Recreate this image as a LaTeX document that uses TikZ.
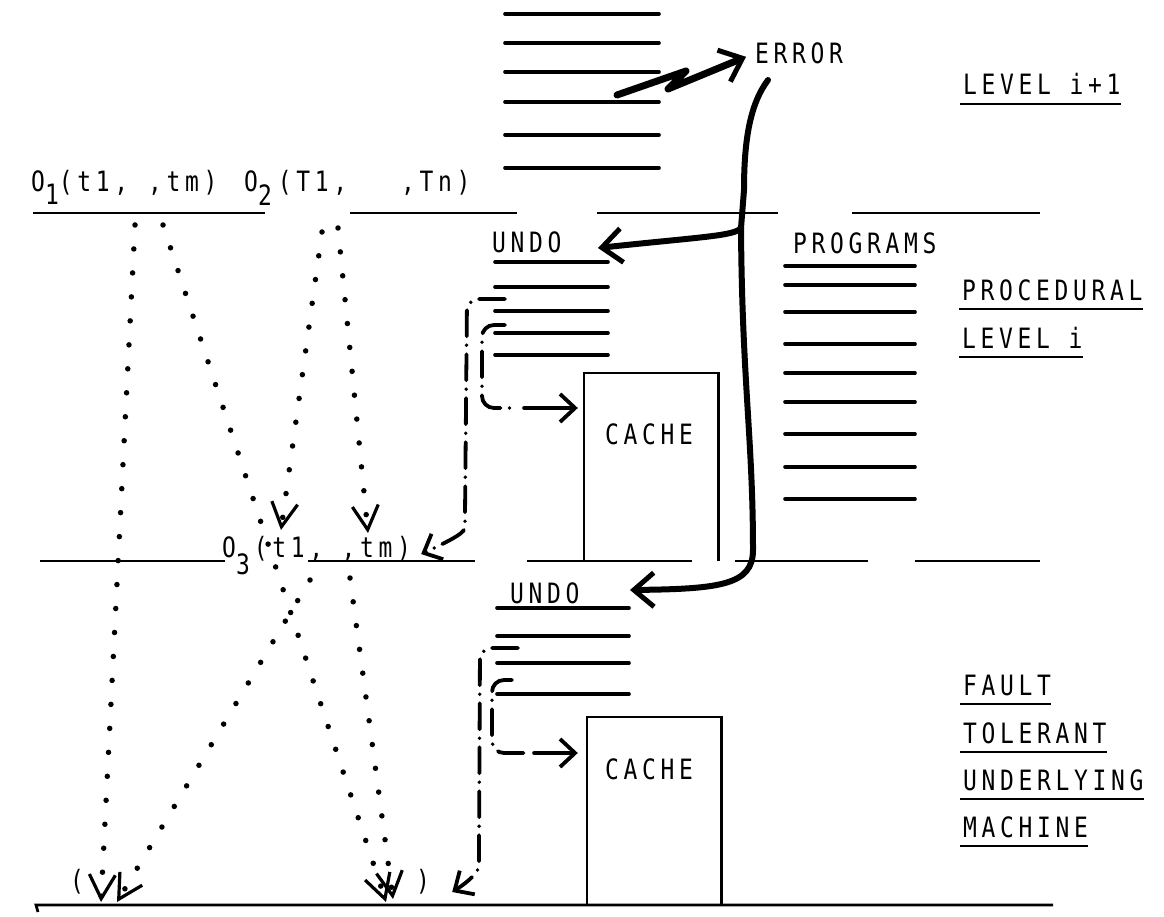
\documentclass[tikz,border=0pt]{standalone}
\usepackage{fontspec}
\usetikzlibrary{arrows.meta,calc}
\newfontfamily\typer[FakeStretch=0.82,LetterSpace=16.7]{DejaVu Sans Mono}
\newcommand{\typesize}{\fontsize{28}{32}\selectfont}
\newcommand{\sublow}[2]{\raisebox{-#1}{#2}}
\tikzset{
 every node/.append style={font=\typer\typesize,text=black,inner sep=0pt},
 word/.style={anchor=base west},
 rule/.style={line width=2.8pt},
 stack/.style={line width=3.6pt,line cap=round},
 wall/.style={line width=2.6pt},
 cachebox/.style={minimum width=134pt,minimum height=188pt},
 bold/.style={line width=6pt,line cap=round,line join=round},
 dots/.style={line width=5.5pt,line cap=round,dash pattern=on 0pt off 24pt},
 chain/.style={line width=3.8pt,line cap=round,rounded corners=12pt,dash pattern=on 26pt off 9pt on 0pt off 9pt},
 tipv/.style={-{Straight Barb[length=24pt,width=26pt,line width=3.2pt]}},
 tipc/.style={-{Straight Barb[length=15pt,width=28pt,line width=3.8pt]}},
 tipb/.style={-{Straight Barb[length=20pt,width=34pt,line width=5pt]}},
}

\begin{document}
\begin{tikzpicture}[x=1pt,y=-1pt]

\useasboundingbox (0,0) rectangle (1164,917);
\draw[rule] (33,213) -- (265,213) (350,213) -- (517,213) (597,213) -- (778,213) (852,213) -- (1040,213);
\draw[rule] (40,561) -- (225,561) (308,561) -- (475,561) (527,561) -- (692,561) (735,561) -- (868,561) (915,561) -- (1040,561);
\draw[rule] (38,912) -- (36,905) -- (1053,905);
\foreach \y in {14,43,72,102,135,168} \draw[stack] (505,\y) -- (659,\y);
\foreach \y in {262,287,311,333,355} \draw[stack] (495,\y) -- (608,\y);
\foreach \y in {266,285,312,344,373,402,434,467,499} \draw[stack] (785,\y) -- (915,\y);
\foreach \y in {608,636,663,694} \draw[stack] (497,\y) -- (629,\y);

\node[word] (err) at (755,64) {ERROR};
\node[word] (lvl1) at (963,95) {LEVEL i+1};
\node[word] (op1) at (31,192) {O\sublow{13pt}{1}(t1,\hspace{20pt},tm)};
\node[word] (op2) at (244,192) {O\sublow{14pt}{2}\kern6pt(T1,\hspace{54pt},Tn)};
\node[word] (undo1) at (492,253) {UNDO};
\node[word] (prog) at (793,254) {PROGRAMS};
\node[word] (proc) at (962,300) {PROCEDURAL};
\node[word] (lvl) at (962,348) {LEVEL i};
\node[word] (op3) at (222,557) {O\sublow{17pt}{3}\kern4pt(t1,\hspace{18.5pt},tm)};
\node[word] (undo2) at (510,603) {UNDO};
\node[word] (fault) at (963,695) {FAULT};
\node[word] (tol) at (963,743) {TOLERANT};
\node[word] (under) at (963,790) {UNDERLYING};
\node[word] (mach) at (963,837) {MACHINE};
\node[word] (lpar) at (70,890) {(};
\node[word] (rpar) at (416,890) {)};
\foreach \n in {lvl1,proc,lvl,fault,tol,under,mach}
  \draw[rule] ([xshift=-3pt,yshift=-9pt]\n.base west) -- ([yshift=-9pt]\n.base east);

\node[cachebox] (cache1) at (651,467) {};
\draw[wall] (cache1.south west) |- (cache1.north east) -- (cache1.south east);
\node[word] (cachetext1) at (605,444) {CACHE};
\node[cachebox] (cache2) at (654,811) {};
\draw[wall] (cache2.south west) |- (cache2.north east) -- (cache2.south east);
\node[word] (cachetext2) at (605,779) {CACHE};

\coordinate (a1) at (135,225);
\coordinate (b1) at (163,225);
\coordinate (c2) at (322,232);
\coordinate (d2) at (338,228);
\coordinate (e3) at (310,580);
\coordinate (f3) at (350,578);
\draw[dots,tipv] (a1) -- ([xshift=31pt,yshift=-12pt]lpar.base west);
\draw[dots,tipv] (b1) -- ([xshift=-30pt,yshift=-12pt]rpar.base west);
\draw[dots,tipv] (c2) -- ([xshift=59pt,yshift=27pt]op3.base west);
\draw[dots,tipv] (d2) -- ([xshift=146pt,yshift=24pt]op3.base west);
\draw[dots,tipv] (e3) -- ([xshift=47pt,yshift=-12pt]lpar.base west);
\draw[dots,tipv] (f3) -- ([xshift=-23pt,yshift=-9pt]rpar.base west);

\coordinate (s1) at (505,299);
\coordinate (s2) at (505,325);
\coordinate (s3) at (518,648);
\coordinate (s4) at (512,680);
\coordinate (k2) at (514,408);
\coordinate (k4) at (524,753);
\draw[chain,tipc] (s1) -- (467,299) -- (465,515) .. controls (465,532) and (456,538) .. ([xshift=10pt,yshift=3pt]op3.base east);
\draw[chain] (s2) -- (482,325) -- (482,408) -- (k2);
\draw[stack,tipc] ([xshift=10pt]k2) -- ([xshift=-6pt]cache1.west |- k2);
\draw[chain,tipc] (s3) -- (480,648) -- (479,853) .. controls (479,872) and (468,882) .. ([xshift=22pt,yshift=-2pt]rpar.base east);
\draw[chain] (s4) -- (492,680) -- (492,753) -- (k4);
\draw[stack,tipc] ([xshift=10pt]k4) -- ([xshift=-9pt]cache2.west |- k4);

\coordinate (drop) at (768,80);
\coordinate (split) at (741,228);
\coordinate (hit1) at (598,248);
\coordinate (hit2) at (630,590);
\draw[bold,line width=7pt,tipb] (617,95) -- (686,71) -- (668,89) -- ([xshift=-9pt,yshift=-3pt]err.west);
\draw[bold] (drop) .. controls (750,104) and (744,140) .. (744,190) -- (split);
\draw[bold,tipb] (split) .. controls (735,236) and (700,237) .. (hit1);
\draw[bold,tipb] (split) .. controls (742,380) and (753,440) .. (753,550) .. controls (753,585) and (720,589) .. (hit2);

\end{tikzpicture}
\end{document}
